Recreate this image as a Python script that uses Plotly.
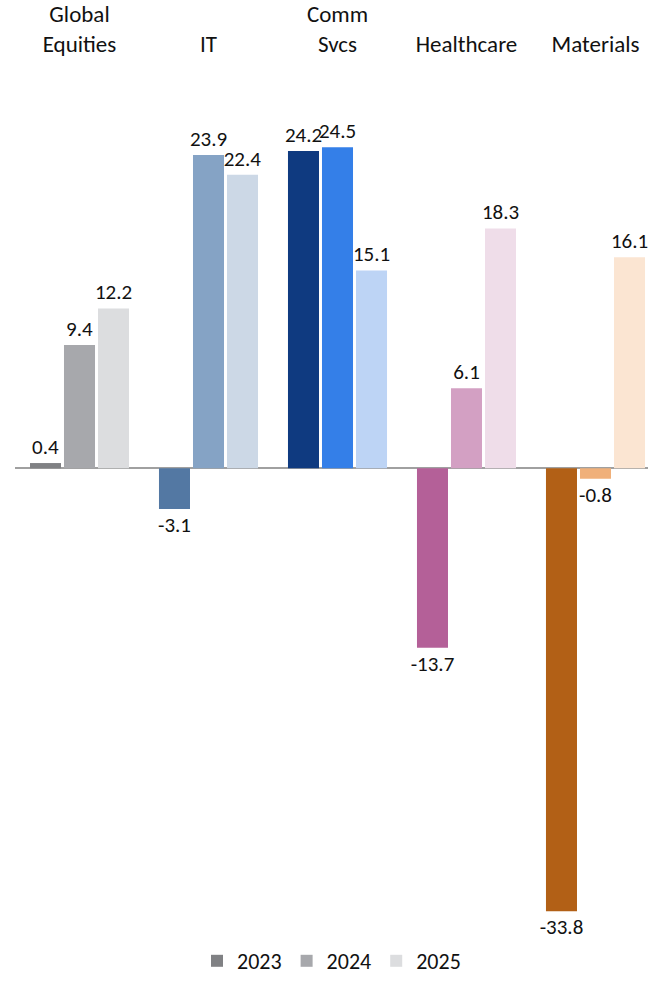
import plotly.graph_objects as go

categories = ["Global<br>Equities", "IT", "Comm<br>Svcs", "Healthcare", "Materials"]
years = ["2023", "2024", "2025"]
returns_2023 = [0.4, -3.1, 24.2, -13.7, -33.8]
returns_2024 = [9.4, 23.9, 24.5, 6.1, -0.8]
returns_2025 = [12.2, 22.4, 15.1, 18.3, 16.1]

# one shade per sector and year (dark -> light)
colors_2023 = ["#808184", "#5378a3", "#0f3a80", "#b46098", "#b26016"]
colors_2024 = ["#a7a8ac", "#85a3c5", "#347fe8", "#d3a0c3", "#f0b07a"]
colors_2025 = ["#dcdddf", "#ccd8e6", "#bdd4f5", "#efdde9", "#fbe5d2"]

series = [
    (years[0], returns_2023, colors_2023),
    (years[1], returns_2024, colors_2024),
    (years[2], returns_2025, colors_2025),
]

FONT = "Carlito, Calibri, Lato, sans-serif"

fig = go.Figure()
for name, vals, cols in series:
    fig.add_trace(go.Bar(
        x=categories,
        y=vals,
        name=name,
        marker=dict(color=cols, line=dict(width=0)),
        text=[f"{v:.1f}" for v in vals],
        textposition="outside",
        constraintext="none",
        textfont=dict(size=21, color="#111111", family=FONT),
        cliponaxis=False,
        hoverinfo="skip",
    ))

fig.update_layout(
    width=648,
    height=982,
    margin=dict(l=15, r=0, t=62, b=55),
    paper_bgcolor="white",
    plot_bgcolor="white",
    barmode="group",
    bargap=0.209,
    bargroupgap=0.088,
    font=dict(family=FONT, size=22, color="#111111"),
    showlegend=True,
    legend=dict(
        orientation="h",
        x=0.5, xanchor="center",
        yref="container", y=0.0, yanchor="bottom",
        font=dict(size=22, family=FONT),
        itemwidth=30,
        traceorder="normal",
    ),
    xaxis=dict(
        side="top",
        range=[-0.5, 4.407],
        showline=False,
        showgrid=False,
        ticks="",
        tickfont=dict(size=23, family=FONT),
        ticklabelstandoff=4,
    ),
    yaxis=dict(
        range=[-35, 31],
        showgrid=False,
        showticklabels=False,
        ticks="",
        showline=False,
        zeroline=True,
        zerolinecolor="#a0a0a0",
        zerolinewidth=2,
    ),
)

fig.write_html("out.html")
